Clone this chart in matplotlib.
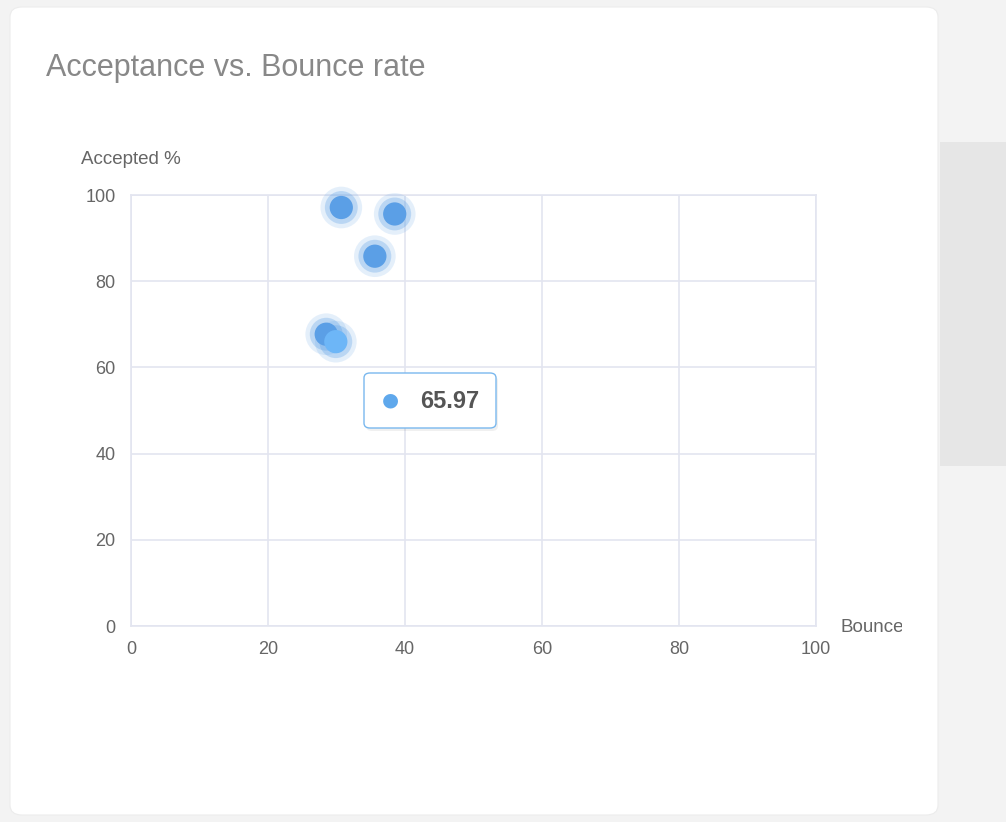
import matplotlib
matplotlib.use("Agg")
import matplotlib.pyplot as plt
from matplotlib.patches import FancyBboxPatch, Rectangle

title = "Acceptance vs. Bounce rate"
x_name = "Bounce"
y_name = "Accepted %"
bounce = [30.7, 38.5, 35.6, 28.5, 29.9]
accepted = [97.1, 95.6, 85.8, 67.7, 65.97]
highlight_index = 4
tooltip_value = "65.97"
ticks = [0, 20, 40, 60, 80, 100]

W, H = 1006, 822
fig = plt.figure(figsize=(W / 100, H / 100), dpi=100)
fig.patch.set_facecolor("#f3f3f3")

def px(x, y):
    return x / W, 1 - y / H

# right gray panel
fig.patches.append(Rectangle(px(940, 466), 66 / W, (466 - 142) / H, transform=fig.transFigure,
                             facecolor="#e6e6e6", edgecolor="none", zorder=-3))
# card
fig.patches.append(FancyBboxPatch(px(10, 815), 928 / W, 808 / H, transform=fig.transFigure,
                                  boxstyle="round,pad=0,rounding_size=0.012",
                                  facecolor="white", edgecolor="#ececec", linewidth=0.8, zorder=-2))

fig.text(46 / W, 1 - 68 / H, title, fontsize=22, color="#888888", va="center", ha="left",
         family="Liberation Sans")

ax = fig.add_axes([131 / W, (H - 626) / H, (816 - 131) / W, (626 - 195) / H])
ax.set_xlim(0, 100)
ax.set_ylim(0, 100)
ax.set_xticks(ticks)
ax.set_yticks(ticks)
ax.set_xticklabels([str(t) for t in ticks])
ax.set_yticklabels([str(t) for t in ticks])
ax.grid(True, color="#e3e5f0", linewidth=1.2)
ax.set_axisbelow(True)
for s in ax.spines.values():
    s.set_color("#e3e5f0")
    s.set_linewidth(1.2)
ax.tick_params(axis="x", length=0, labelsize=13, labelcolor="#666666", pad=11)
ax.tick_params(axis="y", length=0, labelsize=13, labelcolor="#666666", pad=11)
for lab in ax.get_xticklabels() + ax.get_yticklabels():
    lab.set_family("Liberation Sans")
ax.set_facecolor("white")
ax.set_zorder(1)

colors = ["#5b9fe6"] * len(bounce)
colors[highlight_index] = "#6db6f7"
# halos
ax.scatter(bounce, accepted, s=900, color="#5b9fe6", alpha=0.16, edgecolors="none", zorder=3, clip_on=False)
ax.scatter(bounce, accepted, s=560, color="#5b9fe6", alpha=0.3, edgecolors="none", zorder=3, clip_on=False)
ax.scatter(bounce, accepted, s=280, c=colors, edgecolors="none", zorder=4, clip_on=False)

fig.text(81 / W, 1 - 160 / H, y_name, fontsize=13.5, color="#666666", va="center", ha="left",
         family="Liberation Sans")
t = fig.text(841 / W, 1 - 627 / H, x_name, fontsize=13.5, color="#666666", va="center", ha="left",
             family="Liberation Sans")
clip = Rectangle((0, 0), 902, H, transform=None)
t.set_clip_path(clip)
t.set_clip_on(True)

# tooltip shadow + box
fig.patches.append(FancyBboxPatch(px(366, 431), 132 / W, 55 / H, transform=fig.transFigure,
                                  boxstyle="round,pad=0,rounding_size=0.006",
                                  facecolor="#000000", alpha=0.06, edgecolor="none", zorder=5))
fig.patches.append(FancyBboxPatch(px(364, 428), 132 / W, 55 / H, transform=fig.transFigure,
                                  boxstyle="round,pad=0,rounding_size=0.006",
                                  facecolor="white", edgecolor="#7ab8ee", linewidth=1, zorder=6))
fig.text(390 / W, 1 - 400 / H, "\u25cf", fontsize=14, color="#5fa8ec", ha="center", va="center",
         zorder=7)
fig.text(420 / W, 1 - 401 / H, tooltip_value, fontsize=17, fontweight="bold", color="#555555",
         ha="left", va="center", zorder=7, family="Liberation Sans")

fig.savefig("out.png", dpi=100, facecolor=fig.get_facecolor())
